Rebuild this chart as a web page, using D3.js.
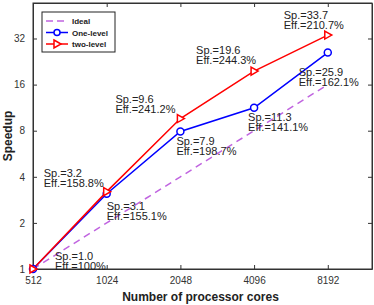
<!DOCTYPE html>
<meta charset="utf-8">
<style>
body { margin: 0; background: #fff; }
svg { display: block; font-family: "Liberation Sans", Arial, sans-serif; }
.tick text { font-size: 10px; fill: #333; }
.note { font-size: 11px; fill: #222; }
</style>
<body>
<script src="https://d3js.org/d3.v7.min.js"></script>
<script>
// data
var cores = [512, 1024, 2048, 4096, 8192];
var ideal = [1, 2, 4, 8, 16];
var oneLevel = [1, 3.1, 7.9, 11.3, 25.9];
var twoLevel = [1, 3.2, 9.6, 19.6, 33.7];
var yTicks = [1, 2, 4, 8, 16, 32];

// annotation texts (speedup, efficiency) with which point they belong to
var notes = [
  {sp: "1.0", eff: "100%", s: "one", i: 0, dx: 22, dy: -9},
  {sp: "3.2", eff: "158.8%", s: "two", i: 1, dx: -63, dy: -15},
  {sp: "3.1", eff: "155.1%", s: "one", i: 1, dx: 0, dy: 16},
  {sp: "9.6", eff: "241.2%", s: "two", i: 2, dx: -65, dy: -16},
  {sp: "7.9", eff: "198.7%", s: "one", i: 2, dx: -4, dy: 13},
  {sp: "19.6", eff: "244.3%", s: "two", i: 3, dx: -58, dy: -17.5},
  {sp: "11.3", eff: "141.1%", s: "one", i: 3, dx: -6, dy: 13},
  {sp: "25.9", eff: "162.1%", s: "one", i: 4, dx: -29, dy: 23},
  {sp: "33.7", eff: "210.7%", s: "two", i: 4, dx: -44, dy: -16.5}
];

var margin = {top: 3, right: 2, bottom: 36, left: 33},
    W = 374, H = 305,
    width = W - margin.left - margin.right,
    height = H - margin.top - margin.bottom;

var x = d3.scaleLog().base(2).domain([512, 512 * Math.pow(2, 4.6)]).range([0, width]);
var y = d3.scaleLog().base(2).domain([1, Math.pow(2, 5.77)]).range([height, 0]);

var svg = d3.select("body").append("svg").attr("width", W).attr("height", H),
    g = svg.append("g").attr("transform", "translate(" + margin.left + "," + margin.top + ")");

// axes with inward ticks, mirrored on top and right
g.append("g").attr("transform", "translate(0," + height + ")")
  .call(d3.axisBottom(x).tickValues(cores).tickFormat(d3.format("d")).tickSizeInner(-4).tickSizeOuter(0).tickPadding(8));
g.append("g")
  .call(d3.axisTop(x).tickValues(cores).tickFormat("").tickSizeInner(-4).tickSizeOuter(0));
g.append("g")
  .call(d3.axisLeft(y).tickValues(yTicks).tickFormat(d3.format("d")).tickSizeInner(-4).tickSizeOuter(0).tickPadding(8));
g.append("g").attr("transform", "translate(" + width + ",0)")
  .call(d3.axisRight(y).tickValues(yTicks).tickFormat("").tickSizeInner(-4).tickSizeOuter(0));
g.selectAll(".domain").attr("stroke", "#333");
g.selectAll(".tick line").attr("stroke", "#333");
g.append("rect").attr("width", width).attr("height", height)
  .attr("fill", "none").attr("stroke", "#333").attr("stroke-width", 1);

var line = d3.line().x(function(d, i) { return x(cores[i]); }).y(function(d) { return y(d); });

g.append("path").datum(ideal).attr("d", line)
  .attr("fill", "none").attr("stroke", "#c064e0").attr("stroke-width", 1.5).attr("stroke-dasharray", "7,5");
g.append("path").datum(oneLevel).attr("d", line)
  .attr("fill", "none").attr("stroke", "#0000ff").attr("stroke-width", 1.5);
g.append("path").datum(twoLevel).attr("d", line)
  .attr("fill", "none").attr("stroke", "#ff0000").attr("stroke-width", 1.5);

var tri = "M-3,-4L4,0L-3,4Z";

g.selectAll(".c1").data(oneLevel).enter().append("circle")
  .attr("cx", function(d, i) { return x(cores[i]); })
  .attr("cy", function(d) { return y(d); })
  .attr("r", 3.5).attr("fill", "#fff").attr("stroke", "#0000ff").attr("stroke-width", 1.5);
g.selectAll(".t2").data(twoLevel).enter().append("path")
  .attr("d", tri)
  .attr("transform", function(d, i) { return "translate(" + x(cores[i]) + "," + y(d) + ")"; })
  .attr("fill", "#fff").attr("stroke", "#ff0000").attr("stroke-width", 1.5);

// annotations
var txt = g.selectAll(".note").data(notes).enter().append("text")
  .attr("class", "note")
  .attr("transform", function(d) {
    var v = (d.s == "one" ? oneLevel : twoLevel)[d.i];
    return "translate(" + (x(cores[d.i]) + d.dx) + "," + (y(v) + d.dy) + ")";
  });
txt.append("tspan").attr("x", 0).attr("y", 0).text(function(d) { return "Sp.=" + d.sp; });
txt.append("tspan").attr("x", 0).attr("y", 10).text(function(d) { return "Eff.=" + d.eff; });

// legend
var leg = g.append("g").attr("transform", "translate(9,9)");
leg.append("rect").attr("width", 73).attr("height", 40)
  .attr("fill", "#fff").attr("stroke", "#222").attr("stroke-width", 1);
var items = [
  {name: "Ideal", color: "#c064e0", dash: "7,4", mark: null},
  {name: "One-level", color: "#0000ff", dash: null, mark: "circle"},
  {name: "two-level", color: "#ff0000", dash: null, mark: "tri"}
];
items.forEach(function(it, k) {
  var yy = 9 + k * 11.5;
  leg.append("line").attr("x1", 4).attr("x2", 26).attr("y1", yy).attr("y2", yy)
    .attr("stroke", it.color).attr("stroke-width", 1.5).attr("stroke-dasharray", it.dash);
  if (it.mark == "circle")
    leg.append("circle").attr("cx", 15).attr("cy", yy).attr("r", 3)
      .attr("fill", "#fff").attr("stroke", it.color).attr("stroke-width", 1.5);
  if (it.mark == "tri")
    leg.append("path").attr("d", tri).attr("transform", "translate(15," + yy + ")")
      .attr("fill", "#fff").attr("stroke", it.color).attr("stroke-width", 1.5);
  leg.append("text").attr("x", 30).attr("y", yy + 3)
    .attr("font-size", "8px").attr("font-weight", "bold").attr("fill", "#222").text(it.name);
});

// axis titles
svg.append("text").attr("x", margin.left + width / 2 - 2).attr("y", 301)
  .attr("text-anchor", "middle").attr("font-size", "12px").attr("font-weight", "bold").attr("fill", "#222")
  .text("Number of processor cores");
svg.append("text").attr("transform", "translate(12," + (margin.top + height / 2) + ") rotate(-90)")
  .attr("text-anchor", "middle").attr("font-size", "12px").attr("font-weight", "bold").attr("fill", "#222")
  .text("Speedup");
</script>
</body>
